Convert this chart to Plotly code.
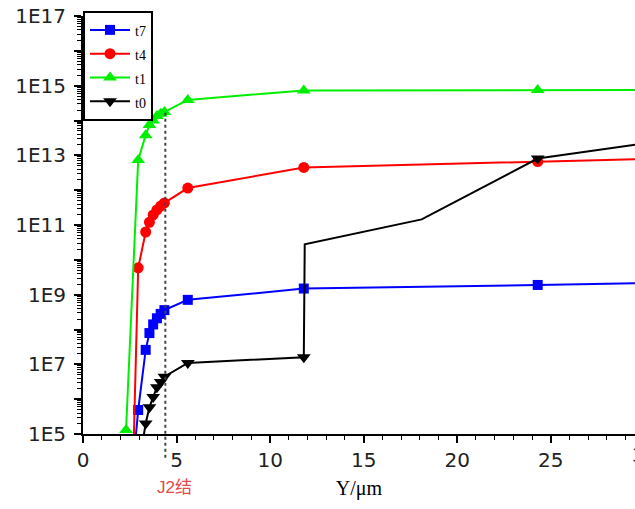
import plotly.graph_objects as go

# ---- data ----
t7_x = [2.6, 2.95, 3.35, 3.55, 3.75, 3.95, 4.15, 4.35, 5.6, 11.8, 24.3, 30]
t7_y = [4e3, 4.9e5, 2.6e7, 7.9e7, 1.4e8, 2.1e8, 2.8e8, 3.6e8, 7.1e8, 1.5e9, 1.9e9, 2.15e9]
t7_marked = [0, 1, 1, 1, 1, 1, 1, 1, 1, 1, 1, 0]

t4_x = [2.6, 2.95, 3.35, 3.55, 3.75, 3.95, 4.15, 4.35, 5.6, 11.8, 24.3, 30]
t4_y = [3e2, 5.9e9, 6.3e10, 1.2e11, 1.95e11, 2.7e11, 3.5e11, 4.3e11, 1.15e12, 4.5e12, 6.6e12, 7.8e12]
t4_marked = [0, 1, 1, 1, 1, 1, 1, 1, 1, 1, 1, 0]

t1_x = [2.3, 2.95, 3.35, 3.55, 3.75, 3.95, 4.15, 4.35, 5.6, 11.8, 24.3, 30]
t1_y = [1.3e5, 7.4e12, 3.8e13, 7.4e13, 1.0e14, 1.35e14, 1.55e14, 1.75e14, 3.9e14, 7.3e14, 7.5e14, 7.5e14]
t1_marked = [1, 1, 1, 1, 1, 1, 1, 1, 1, 1, 1, 0]

t0_x = [2.95, 3.35, 3.55, 3.75, 3.95, 4.15, 4.35, 5.6, 11.8, 11.85, 18.1, 24.3, 30]
t0_y = [1e4, 2.0e5, 5.9e5, 1.15e6, 2.2e6, 3.1e6, 4.4e6, 1.1e7, 1.6e7, 2.8e10, 1.45e11, 8.1e12, 2.2e13]
t0_marked = [0, 1, 1, 1, 1, 1, 1, 1, 1, 0, 0, 1, 0]

junction_x = 4.4
junction_top_log = 14.24
x_max = 29.5
x_tick_vals = [0, 5, 10, 15, 20, 25]
y_log_range = [5, 17]
y_tick_vals = [10.0 ** e for e in range(5, 18)]
y_tick_text = ["1E%d" % e if e % 2 == 1 else "" for e in range(5, 18)]
y_minor_vals = [m * 10.0 ** e for e in range(5, 17) for m in range(2, 10)]

series = [
    ("t7", t7_x, t7_y, t7_marked, "#0000ff", "square", 10),
    ("t4", t4_x, t4_y, t4_marked, "#ff0000", "circle", 11),
    ("t1", t1_x, t1_y, t1_marked, "#00ee00", "triangle-up", 12),
    ("t0", t0_x, t0_y, t0_marked, "#000000", "triangle-down", 12),
]

fig = go.Figure()

# legend entries
for name, xs, ys, mk, col, sym, sz in series:
    fig.add_trace(go.Scatter(
        x=[None], y=[None], mode="lines+markers",
        name='<span style="font-size:14px">%s</span>' % name,
        line=dict(color=col, width=2),
        marker=dict(color=col, symbol=sym, size=sz),
        showlegend=True,
    ))

# curves and markers
for name, xs, ys, mk, col, sym, sz in series:
    fig.add_trace(go.Scatter(
        x=xs, y=ys, mode="lines", line=dict(color=col, width=2),
        showlegend=False, hoverinfo="skip",
    ))
    fig.add_trace(go.Scatter(
        x=[x for x, m in zip(xs, mk) if m],
        y=[y for y, m in zip(ys, mk) if m],
        mode="markers", marker=dict(color=col, symbol=sym, size=sz),
        showlegend=False,
    ))

# dotted J2 junction line
fig.add_shape(
    type="line", xref="paper", yref="paper",
    x0=junction_x / x_max, x1=junction_x / x_max,
    y0=-0.057, y1=(junction_top_log - y_log_range[0]) / (y_log_range[1] - y_log_range[0]),
    line=dict(color="#444444", width=2, dash="dot"),
)

fig.add_annotation(
    text="J2结", xref="paper", yref="paper",
    x=0.165, y=-0.127, showarrow=False,
    font=dict(family="Liberation Sans, Noto Sans CJK SC", size=17, color="#e04a4a"),
    xanchor="center", yanchor="middle",
)

# partially visible "30" tick label at the cropped right edge
fig.add_annotation(
    text="30", xref="paper", yref="paper",
    x=30 / x_max, y=-0.05, showarrow=False,
    font=dict(family="DejaVu Sans", size=20, color="#222222"),
    xanchor="center", yanchor="middle",
)

fig.update_layout(
    width=635, height=509,
    margin=dict(l=83, r=0, t=16, b=75),
    paper_bgcolor="white", plot_bgcolor="white",
    showlegend=True,
    legend=dict(
        x=0, y=1.012, xanchor="left", yanchor="top",
        bgcolor="white", bordercolor="black", borderwidth=2,
        font=dict(family="Liberation Serif, Times New Roman", size=16, color="black"),
        itemwidth=40,
    ),
)

fig.update_xaxes(
    range=[0, x_max], showgrid=False, zeroline=False,
    showline=True, linecolor="black", linewidth=2,
    ticks="outside", ticklen=7, tickwidth=2, tickcolor="black",
    tickmode="array", tickvals=x_tick_vals,
    minor=dict(ticks="outside", ticklen=4, tickwidth=1, tickcolor="black", dtick=1, showgrid=False),
    tickfont=dict(family="DejaVu Sans", size=20, color="#222222"),
    title=dict(text="Y/μm", font=dict(family="Liberation Serif, Times New Roman", size=20, color="black"), standoff=10),
    automargin=False,
)

fig.update_yaxes(
    type="log", range=y_log_range, showgrid=False, zeroline=False,
    showline=True, linecolor="black", linewidth=2,
    ticks="outside", ticklen=7, tickwidth=2, tickcolor="black",
    tickmode="array", tickvals=y_tick_vals, ticktext=y_tick_text,
    minor=dict(ticks="outside", ticklen=4, tickwidth=1, tickcolor="black",
               tickmode="array", tickvals=y_minor_vals, showgrid=False),
    tickfont=dict(family="DejaVu Sans", size=20, color="#222222"),
    ticklabelstandoff=4,
    automargin=False,
)

fig.write_html("out.html")
